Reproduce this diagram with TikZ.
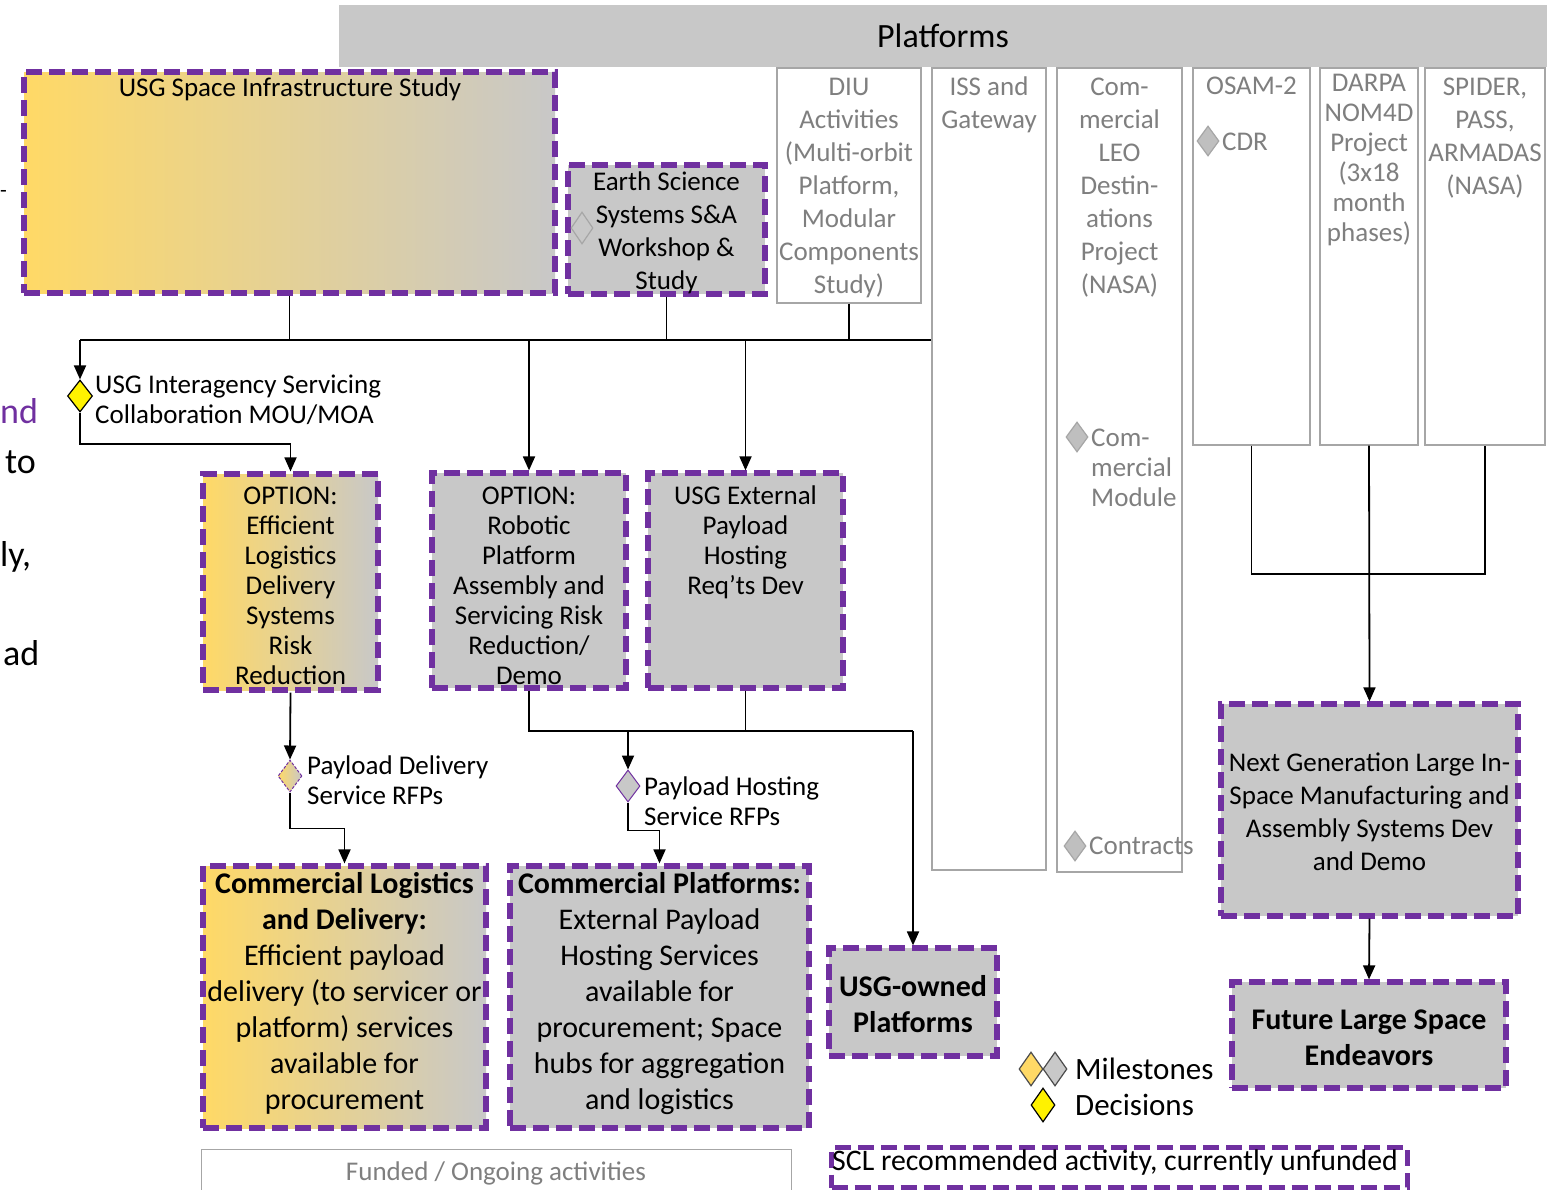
\documentclass[tikz,border=0pt]{standalone}
\usepackage{fontspec}
\setmainfont{Carlito}
\usetikzlibrary{arrows.meta,shapes.geometric}
\definecolor{purp}{HTML}{7030A0}
\definecolor{boxgray}{HTML}{C8C8C8}
\definecolor{gold}{HTML}{FFD966}
\definecolor{txtgray}{HTML}{7F7F7F}
\definecolor{linegray}{HTML}{A6A6A6}
\definecolor{dmdgray}{HTML}{BFBFBF}
\newcommand\myfs[2]{\fontsize{#1}{#2}\selectfont}
\begin{document}
\begin{tikzpicture}[x=1pt,y=-1pt,
  unf/.style={draw=purp,line width=5.2pt,dash pattern=on 16pt off 7pt,fill=boxgray,inner sep=0pt},
  gradbox/.style={draw=purp,line width=5.2pt,dash pattern=on 16pt off 7pt,left color=gold,right color=boxgray,inner sep=0pt},
  plat/.style={draw=linegray,line width=1.3pt,fill=white,inner sep=0pt},
  txt/.style={align=center,anchor=north,inner sep=0pt,font=\myfs{27}{30}},
  ptxt/.style={txt,text=txtgray,font=\myfs{27}{33}},
  conn/.style={line width=1.8pt,draw=black},
  arr/.style={conn,-{Triangle[length=14pt,width=12pt]}},
  dmd/.style={diamond,inner sep=0pt,minimum width=24pt,minimum height=32pt,line width=1.2pt},
  frag/.style={font=\myfs{36}{40},anchor=base west,inner sep=0pt},
  ]
\useasboundingbox (0,0) rectangle (1562,1189);
\begin{scope}
\clip (0,0) rectangle (1562,1189);

% left fragments
\node[frag,font=\myfs{22}{26}] (fr1) at (0,197) {-};
\node[frag,text=purp] (fr2) at (0,423) {nd};
\node[frag] (fr3) at (5,473) {to};
\node[frag] (fr4) at (0,566) {ly,};
\node[frag] (fr5) at (3,665) {ad};

% Platforms header and columns
\node[fill=boxgray,minimum width=1208pt,minimum height=62pt,inner sep=0pt,font=\myfs{34}{40}] (plathdr) at (943,36) {Platforms};
\node[plat,minimum width=144pt,minimum height=235pt] (diu) at (849,185.5) {};
\node[plat,minimum width=114pt,minimum height=802pt] (iss) at (989,469) {};
\node[plat,minimum width=125pt,minimum height=804pt] (clds) at (1119.5,470) {};
\node[plat,minimum width=117pt,minimum height=377pt] (osam) at (1251.5,256.5) {};
\node[plat,minimum width=98pt,minimum height=377pt] (darpa) at (1369,256.5) {};
\node[plat,minimum width=120pt,minimum height=377pt] (spider) at (1485,256.5) {};

\node[ptxt] (diuT) at (849,72) {\strut DIU\\Activities\\(Multi-orbit\\Platform,\\Modular\\Components\\Study)};
\node[ptxt] (issT) at (989,72) {\strut ISS and\\Gateway};
\node[ptxt] (cldsT) at (1119.5,72) {\strut Com-\\mercial\\LEO\\Destin-\\ations\\Project\\(NASA)};
\node[ptxt] (osamT) at (1251.5,71) {\strut OSAM-2};
\node[ptxt,font=\myfs{27}{30}] (darpaT) at (1369,70) {\strut DARPA\\NOM4D\\Project\\(3x18\\month\\phases)};
\node[ptxt] (spiderT) at (1485,72) {\strut SPIDER,\\PASS,\\ARMADAS\\(NASA)};

\node[dmd,draw=linegray,fill=dmdgray,minimum width=22pt,minimum height=30pt] (cdrM) at (1208,141) {};
\node[anchor=west,inner sep=0pt,text=txtgray,font=\myfs{27}{30}] (cdrT) at (1222,142) {CDR};
\node[dmd,draw=linegray,fill=dmdgray,minimum width=22pt,minimum height=30pt] (cmM) at (1077,437) {};
\node[txt,anchor=north west,align=left,text=txtgray] (cmT) at (1091,425) {\strut Com-\\mercial\\Module};
\node[dmd,draw=linegray,fill=dmdgray,minimum width=22pt,minimum height=30pt] (conM) at (1075,846) {};
\node[anchor=west,inner sep=0pt,text=txtgray,font=\myfs{27}{30}] (conT) at (1089,846) {Contracts};

% top boxes
\node[gradbox,minimum width=531pt,minimum height=221pt] (infra) at (289.5,182.5) {};
\node[anchor=base,inner sep=0pt,font=\myfs{27}{33}] (infraT) at (290,96) {USG Space Infrastructure Study};
\node[unf,minimum width=197pt,minimum height=129pt] (earth) at (666.5,229.5) {};
\node[txt,font=\myfs{27}{33}] (earthT) at (666.5,167) {\strut Earth Science\\Systems S\&A\\Workshop \&\\Study};
\node[dmd,draw=linegray,fill=boxgray,minimum width=22pt,minimum height=32pt] (earthM) at (582,228) {};

% decision
\node[dmd,draw=black,fill=yellow,minimum width=25pt,minimum height=32pt] (dec) at (80,396) {};
\node[txt,anchor=north west,align=left] (decT) at (95,372) {\strut USG Interagency Servicing\\Collaboration MOU/MOA};

% option boxes
\node[gradbox,minimum width=175pt,minimum height=216pt] (optEff) at (290.5,582) {};
\node[txt] (optEffT) at (290.5,483) {\strut OPTION:\\Efficient\\Logistics\\Delivery\\Systems\\Risk\\Reduction};
\node[unf,minimum width=194pt,minimum height=215pt] (optRob) at (529,580.5) {};
\node[txt] (optRobT) at (529,483) {\strut OPTION:\\Robotic\\Platform\\Assembly and\\Servicing Risk\\Reduction/\\Demo};
\node[unf,minimum width=195pt,minimum height=215pt] (usgExt) at (745.5,580.5) {};
\node[txt] (usgExtT) at (745.5,483) {\strut USG External\\Payload\\Hosting\\Req’ts Dev};

% RFP milestones
\node[dmd,draw=purp,line width=1pt,dash pattern=on 3pt off 1.5pt,left color=gold,right color=boxgray] (pd) at (290,776) {};
\node[txt,anchor=north west,align=left] (pdT) at (307,753) {\strut Payload Delivery\\Service RFPs};
\node[dmd,draw=purp,line width=1pt,fill=boxgray] (ph) at (628,786) {};
\node[txt,anchor=north west,align=left] (phT) at (644,774) {\strut Payload Hosting\\Service RFPs};

% bottom boxes
\node[gradbox,minimum width=283pt,minimum height=262pt] (comLog) at (344.5,997) {};
\node[txt,font=\myfs{30}{36}] (comLogT) at (344.5,868) {\strut\textbf{Commercial Logistics}\\\textbf{and Delivery:}\\Efficient payload\\delivery (to servicer or\\platform) services\\available for\\procurement};
\node[unf,minimum width=299pt,minimum height=262pt] (comPlat) at (659.5,997) {};
\node[txt,font=\myfs{30}{36}] (comPlatT) at (659.5,868) {\strut\textbf{Commercial Platforms:}\\External Payload\\Hosting Services\\available for\\procurement; Space\\hubs for aggregation\\and logistics};
\node[unf,minimum width=168pt,minimum height=108pt] (usgOwn) at (913,1002) {};
\node[txt,font=\myfs{30}{36}\bfseries] (usgOwnT) at (913,971) {\strut USG-owned\\Platforms};

% right boxes
\node[unf,minimum width=297pt,minimum height=212pt] (nextGen) at (1369.5,810) {};
\node[txt,font=\myfs{27}{33}] (nextGenT) at (1369.5,748) {\strut Next Generation Large In-\\Space Manufacturing and\\Assembly Systems Dev\\and Demo};
\node[unf,minimum width=274pt,minimum height=106pt] (future) at (1369,1035) {};
\node[txt,font=\myfs{30}{36}\bfseries] (futureT) at (1369,1004) {\strut Future Large Space\\Endeavors};

% legend
\node[dmd,draw=black!70,fill=gold,minimum width=24pt,minimum height=34pt] (legM1) at (1031,1069) {};
\node[dmd,draw=black!70,fill=boxgray,minimum width=24pt,minimum height=34pt] (legM2) at (1055,1069) {};
\node[anchor=west,inner sep=0pt,font=\myfs{31}{36}] (legMT) at (1075,1069) {Milestones};
\node[dmd,draw=black,fill=yellow,minimum width=24pt,minimum height=34pt] (legD) at (1043,1105) {};
\node[anchor=west,inner sep=0pt,font=\myfs{31}{36}] (legDT) at (1075,1105) {Decisions};
\node[draw=purp,line width=5.2pt,dash pattern=on 16pt off 7pt,minimum width=576pt,minimum height=40pt,inner sep=0pt,anchor=north west] (scl) at (829,1145) {};
\node[anchor=west,inner sep=0pt,font=\myfs{29.8}{34}] (sclT) at (832,1163) {SCL recommended activity, currently unfunded};
\node[draw=linegray,line width=1.3pt,minimum width=590pt,minimum height=60pt,inner sep=0pt,anchor=north west] (funded) at (201,1149) {};
\node[anchor=base,inner sep=0pt,text=txtgray,font=\myfs{27}{30}] (fundedT) at (496,1180) {Funded / Ongoing activities};

% connectors
\coordinate (b1) at (80,340);
\draw[conn] (b1) -- (iss.west |- b1);
\draw[conn] (infra.south) -- (infra.south |- b1);
\draw[conn] (earth.south) -- (earth.south |- b1);
\draw[conn] (diu.south) -- (diu.south |- b1);
\draw[arr] (b1) -- (dec.north);
\draw[arr] (optRob.north |- b1) -- (optRob.north);
\draw[arr] (usgExt.north |- b1) -- (usgExt.north);
\draw[arr] (dec.south) -- ++(0,31) -| (optEff.north);
\draw[arr] (optEff.south) -- (pd.north);
\draw[arr] (pd.south) -- ++(0,36) -| (comLog.north);
\coordinate (c2) at (913,731);
\draw[conn] (optRob.south) |- (c2);
\draw[conn] (usgExt.south) -- (usgExt.south |- c2);
\draw[arr] (ph.north |- c2) -- (ph.north);
\draw[arr] (c2) -- (usgOwn.north);
\draw[arr] (ph.south) -- ++(0,28) -| (comPlat.north);
\coordinate (c3) at (1369,574);
\draw[conn] (osam.south) |- (c3) -| (spider.south);
\draw[arr] (darpa.south) -- (nextGen.north);
\draw[arr] (nextGen.south) -- (future.north);
\end{scope}
\end{tikzpicture}
\end{document}
